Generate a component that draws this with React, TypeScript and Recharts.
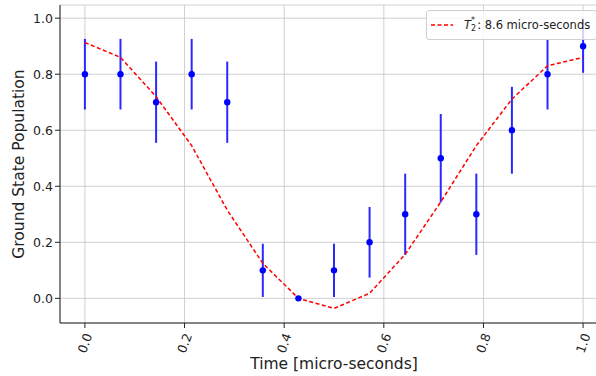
import React from 'react';
import { ComposedChart, Scatter, Line, ErrorBar, XAxis, YAxis, CartesianGrid, Legend } from 'recharts';

// Ramsey-type decay: measured population with binomial error bars and a fitted curve
const times = [0, 0.0714, 0.1429, 0.2143, 0.2857, 0.3571, 0.4286, 0.5, 0.5714, 0.6429, 0.7143, 0.7857, 0.8571, 0.9286, 1.0];
const population = [0.8, 0.8, 0.7, 0.8, 0.7, 0.1, 0.0, 0.1, 0.2, 0.3, 0.5, 0.3, 0.6, 0.8, 0.9];
const popError = [0.126, 0.126, 0.145, 0.126, 0.145, 0.095, 0, 0.095, 0.126, 0.145, 0.158, 0.145, 0.155, 0.126, 0.095];
const fitValues = [0.913, 0.86, 0.72, 0.545, 0.315, 0.125, 0.0, -0.036, 0.018, 0.157, 0.344, 0.545, 0.711, 0.83, 0.86];
const xTicks = [0, 0.2, 0.4, 0.6, 0.8, 1.0];
const yTicks = [0, 0.2, 0.4, 0.6, 0.8, 1.0];

const data = times.map((t, i) => ({ t, pop: population[i], err: popError[i], fit: fitValues[i] }));

const FONT = '"DejaVu Sans", sans-serif';

const XTick = (props: any) => {
  const { x, y, payload } = props;
  const cy = y + 13;
  return (
    <text x={x} y={cy} transform={`rotate(-70, ${x}, ${cy})`} textAnchor="middle" dominantBaseline="central"
      fontSize={12.5} fontFamily={FONT} fill="#222">
      {payload.value.toFixed(1)}
    </text>
  );
};

const Dot = (props: any) => <circle cx={props.cx} cy={props.cy} r={3.2} fill="#0000ff" />;

const LegendBox = () => (
  <div style={{
    display: 'flex', alignItems: 'center', background: 'rgba(255,255,255,0.8)', border: '1px solid #d0d0d0',
    borderRadius: 3, height: 28, padding: '0 6px 0 3px', fontFamily: FONT, fontSize: 11.5, color: '#222', whiteSpace: 'nowrap',
  }}>
    <svg width={24} height={10} style={{ marginRight: 10 }}>
      <line x1={1} y1={5} x2={23} y2={5} stroke="#ff0000" strokeWidth={1.5} strokeDasharray="4 2.5" />
    </svg>
    <span style={{ fontStyle: 'italic' }}>T</span>
    <span style={{ display: 'inline-flex', flexDirection: 'column', fontSize: 8, lineHeight: '8px', marginRight: 1 }}>
      <span>*</span>
      <span>2</span>
    </span>
    <span>: 8.6 micro-seconds</span>
  </div>
);

export default function App() {
  return (
    <div style={{ position: 'fixed', left: 0, top: 0, width: 596, height: 376, overflow: 'hidden', background: '#fff' }}>
      <ComposedChart width={620} height={376} data={data} margin={{ top: 5, right: 12, bottom: 0, left: 0 }}>
        <CartesianGrid stroke="#c4c4c4" strokeWidth={0.8} />
        <XAxis
          dataKey="t" type="number" domain={[-0.05, 1.05]} ticks={xTicks} height={53}
          tick={<XTick />} tickSize={5} stroke="#222" axisLine={{ stroke: '#222' }}
          label={{ value: 'Time [micro-seconds]', position: 'insideBottom', offset: 7, style: { fontFamily: FONT, fontSize: 15.5, fill: '#222' } }}
        />
        <XAxis xAxisId="top" orientation="top" type="number" domain={[-0.05, 1.05]} height={0} tick={false} tickLine={false} axisLine={{ stroke: '#222' }} />
        <YAxis
          type="number" domain={[-0.088, 1.047]} ticks={yTicks} width={60} allowDataOverflow
          tickFormatter={(v: number) => v.toFixed(1)} tickSize={5} tickMargin={2} stroke="#222"
          tick={{ fontFamily: FONT, fontSize: 12.5, fill: '#222' }}
          label={{ value: 'Ground State Population', angle: -90, position: 'insideLeft', offset: 18, style: { textAnchor: 'middle', fontFamily: FONT, fontSize: 15.5, fill: '#222' } }}
        />
        <Scatter dataKey="pop" shape={<Dot />} isAnimationActive={false}>
          <ErrorBar dataKey="err" direction="y" width={0} stroke="#2a2aff" strokeWidth={2} />
        </Scatter>
        <Line dataKey="fit" type="linear" stroke="#ff0000" strokeWidth={1.5} strokeDasharray="4 2.5" dot={false} isAnimationActive={false} />
        <Legend content={<LegendBox />} layout="horizontal" verticalAlign="middle" align="center"
          wrapperStyle={{ top: 10, left: 426, width: 'auto' }} />
      </ComposedChart>
    </div>
  );
}
